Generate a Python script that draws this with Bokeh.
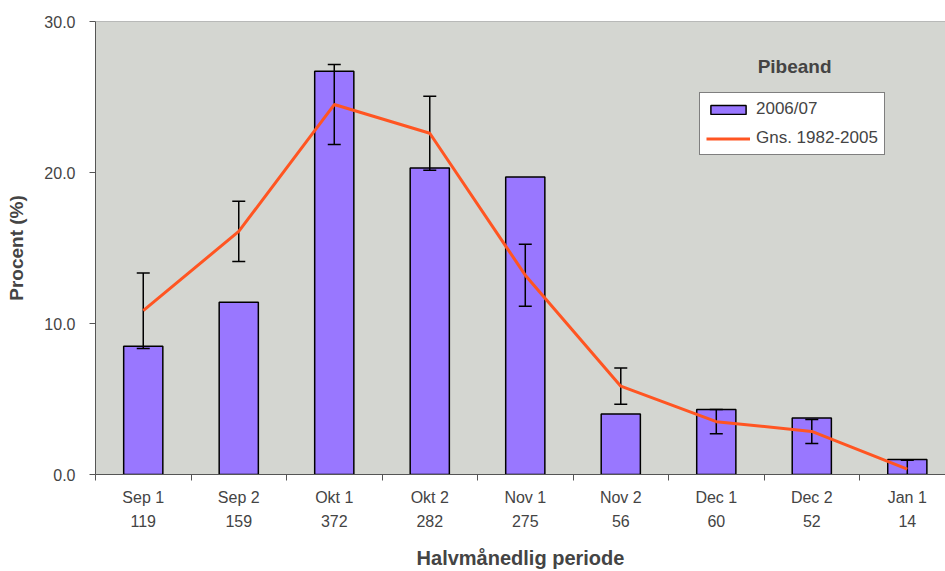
from bokeh.plotting import figure
from bokeh.models import (Range1d, LinearAxis, FixedTicker, NumeralTickFormatter,
                          ColumnDataSource, Legend, LegendItem, Label, Span)
from bokeh.embed import file_html
from bokeh.resources import INLINE

# ---- data ----
categories = ["Sep 1", "Sep 2", "Okt 1", "Okt 2", "Nov 1", "Nov 2", "Dec 1", "Dec 2", "Jan 1"]
counts = [119, 159, 372, 282, 275, 56, 60, 52, 14]
season_2006 = [8.5, 11.4, 26.7, 20.3, 19.7, 4.0, 4.3, 3.75, 1.0]
avg_1982_2005 = [10.85, 16.1, 24.5, 22.6, 13.2, 5.85, 3.5, 2.85, 0.35]
avg_err = [2.5, 2.0, 2.65, 2.45, 2.05, 1.2, 0.8, 0.8, 0.6]
y_ticks = [0, 10, 20, 30]

FONT = "Liberation Sans"
BAR = "#9977FF"
LINE = "#FF5522"
BG = "#D4D6D1"

xs = list(range(len(categories)))
upper = [a + e for a, e in zip(avg_1982_2005, avg_err)]
lower = [a - e for a, e in zip(avg_1982_2005, avg_err)]
src = ColumnDataSource(dict(x=xs, bar=season_2006, avg=avg_1982_2005, upper=upper, lower=lower))

p = figure(width=945, height=571, output_backend="svg", toolbar_location=None,
           x_range=Range1d(-0.5, 8.40), y_range=Range1d(0, 30),
           x_axis_type=None, y_axis_type=None,
           min_border_left=95, min_border_top=21, min_border_right=0, min_border_bottom=0)
p.background_fill_color = BG
p.border_fill_color = "white"
p.outline_line_color = None
p.grid.visible = False

# y axis
yax = LinearAxis(ticker=FixedTicker(ticks=y_ticks, minor_ticks=[]),
                 formatter=NumeralTickFormatter(format="0.0"))
yax.axis_label = "Procent (%)"
yax.axis_label_text_font = FONT
yax.axis_label_text_font_size = "19px"
yax.axis_label_text_font_style = "bold"
yax.axis_label_standoff = 14
yax.major_label_text_font = FONT
yax.major_label_text_font_size = "16px"
yax.major_label_standoff = 14
yax.major_tick_out = 6
yax.major_tick_in = 0
yax.axis_line_color = "#555555"
yax.major_tick_line_color = "#555555"
p.add_layout(yax, "left")

# x axis: category names, tick marks between categories
xax1 = LinearAxis(ticker=FixedTicker(ticks=xs, minor_ticks=[i - 0.5 for i in range(len(categories) + 1)]))
xax1.major_label_overrides = {i: c for i, c in zip(xs, categories)}
xax1.major_tick_out = 0
xax1.major_tick_in = 0
xax1.minor_tick_out = 6
xax1.minor_tick_in = 0
xax1.minor_tick_line_color = "#555555"
xax1.axis_line_color = "#555555"
xax1.major_label_text_font = FONT
xax1.major_label_text_font_size = "16px"
xax1.major_label_standoff = 8
p.add_layout(xax1, "below")

# second row of labels: counts
xax2 = LinearAxis(ticker=FixedTicker(ticks=xs, minor_ticks=[]))
xax2.major_label_overrides = {i: str(n) for i, n in zip(xs, counts)}
xax2.axis_line_color = None
xax2.major_tick_line_color = None
xax2.major_tick_out = 0
xax2.major_tick_in = 0
xax2.major_label_text_font = FONT
xax2.major_label_text_font_size = "16px"
xax2.major_label_standoff = 6
xax2.axis_label = "Halvmånedlig periode"
xax2.axis_label_text_font = FONT
xax2.axis_label_text_font_size = "20px"
xax2.axis_label_text_font_style = "bold"
xax2.axis_label_standoff = 17
p.add_layout(xax2, "below")

p.add_layout(Span(location=30, dimension="width", line_color="#888888", line_width=1))

bars = p.vbar(x="x", top="bar", width=0.41, source=src, fill_color=BAR,
              line_color="black", line_width=1.5)
p.segment(x0="x", y0="lower", x1="x", y1="upper", source=src, line_color="black", line_width=1.5)
p.scatter(x="x", y="upper", source=src, marker="dash", size=13, line_color="black", line_width=1.5)
p.scatter(x="x", y="lower", source=src, marker="dash", size=13, line_color="black", line_width=1.5)
ln = p.line(x="x", y="avg", source=src, line_color=LINE, line_width=3)

legend = Legend(items=[LegendItem(label="2006/07", renderers=[bars]),
                       LegendItem(label="Gns. 1982-2005", renderers=[ln])],
                location=(604, 319))
legend.label_text_font = FONT
legend.label_text_font_size = "17px"
legend.glyph_width = 44
legend.glyph_height = 11
legend.label_height = 20
legend.label_standoff = 6
legend.padding = 6
legend.spacing = 9
legend.margin = 0
legend.border_line_color = "black"
legend.border_line_width = 1
legend.background_fill_color = "white"
legend.background_fill_alpha = 1
p.add_layout(legend)

p.add_layout(Label(x=6.82, y=27.03, text="Pibeand", text_font=FONT, text_font_size="19px",
                   text_font_style="bold", text_align="center", text_baseline="middle"))

open("out.html", "w").write(file_html(p, INLINE))
